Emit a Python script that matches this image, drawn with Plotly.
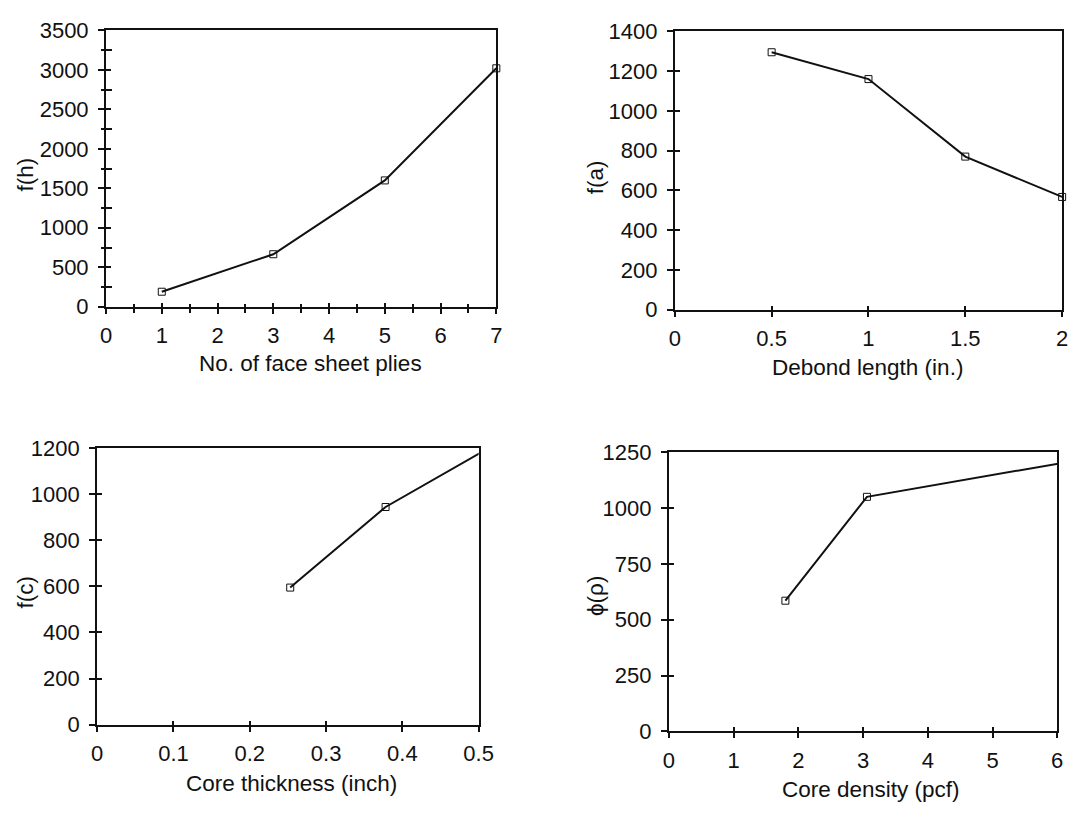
import plotly.graph_objects as go

W, H = 1084, 820

# ---- data ----
plies = [1, 3, 5, 7]
f_h = [190, 665, 1600, 3020]

debond = [0.5, 1.0, 1.5, 2.0]
f_a = [1295, 1160, 770, 567]

core_thk = [0.253, 0.378, 0.505]
f_c = [595, 945, 1185]

core_den = [1.8, 3.06, 6.04]
phi_rho = [585, 1050, 1200]

FONT = "Liberation Sans, Arial, sans-serif"
FS = 22
FT = 22.5
INK = "#111111"


def px(x):
    return min(1.0, max(0.0, x / W))


def py(y):
    return min(1.0, max(0.0, 1 - y / H))


# panel geometry in pixels: (left, right, top, bottom)
panels = [
    dict(x=plies, y=f_h, box=(102, 500, 19, 304), xr=[0, 7], yr=[0, 3500],
         xd=1, yd=500, xminor=0.5, yminor=250,
         xt="No. of face sheet plies", yt="f(h)", xt_pos=(311, 363), yt_pos=(20, 168)),
    dict(x=debond, y=f_a, box=(682, 1077, 20, 307), xr=[0, 2], yr=[0, 1400],
         xd=0.5, yd=200, xminor=None, yminor=None,
         xt="Debond length (in.)", yt="f(a)", xt_pos=(879, 367), yt_pos=(601, 170)),
    dict(x=core_thk, y=f_c, box=(93, 482, 450, 735), xr=[0, 0.5], yr=[0, 1200],
         xd=0.1, yd=200, xminor=None, yminor=None,
         xt="Core thickness (inch)", yt="f(c)", xt_pos=(291, 796), yt_pos=(20, 598)),
    dict(x=core_den, y=phi_rho, box=(676, 1072, 454, 742), xr=[0, 6], yr=[0, 1250],
         xd=1, yd=250, xminor=None, yminor=None,
         xt="Core density (pcf)", yt="ϕ(ρ)", xt_pos=(882, 802), yt_pos=(601, 602)),
]

fig = go.Figure()
annotations = []
layout = {}

for i, p in enumerate(panels, start=1):
    xa = "x" if i == 1 else f"x{i}"
    ya = "y" if i == 1 else f"y{i}"
    xk = "xaxis" if i == 1 else f"xaxis{i}"
    yk = "yaxis" if i == 1 else f"yaxis{i}"
    l, r, t, b = p["box"]
    fig.add_trace(go.Scatter(
        x=p["x"], y=p["y"], xaxis=xa, yaxis=ya, mode="lines+markers",
        line=dict(color=INK, width=2),
        marker=dict(symbol="square-open", size=7, color=INK,
                    line=dict(width=1)),
        cliponaxis=False, showlegend=False,
    ))
    # invisible trace so the overlay (inner-tick) axes are rendered
    fig.add_trace(go.Scatter(
        x=p["x"], y=p["y"], xaxis=f"x{i + 4}", yaxis=f"y{i + 4}",
        mode="lines", line=dict(width=0), opacity=0,
        hoverinfo="skip", showlegend=False,
    ))
    common = dict(showgrid=False, zeroline=False, tick0=0,
                  tickwidth=1.5, tickcolor=INK)
    xaxis = dict(
        domain=[px(l), px(r)], range=p["xr"], anchor=ya, dtick=p["xd"],
        showline=True, linecolor=INK, linewidth=2, mirror=True,
        ticks="outside", ticklen=5,
        tickfont=dict(family=FONT, size=FS, color=INK),
        ticklabelstandoff=3, **common,
    )
    yaxis = dict(
        domain=[py(b), py(t)], range=p["yr"], anchor=xa, dtick=p["yd"],
        showline=True, linecolor=INK, linewidth=2, mirror=True,
        ticks="outside", ticklen=6,
        tickfont=dict(family=FONT, size=FS, color=INK),
        ticklabelstandoff=5, **common,
    )
    # inner half of the crossing ticks
    xin = dict(overlaying=xa, anchor=ya, side="bottom", range=p["xr"],
               dtick=p["xd"], ticks="inside", ticklen=4, showline=False,
               showticklabels=False, **common)
    yin = dict(overlaying=ya, anchor=xa, side="left", range=p["yr"],
               dtick=p["yd"], ticks="inside", ticklen=5, showline=False,
               showticklabels=False, **common)
    if p["xminor"]:
        xaxis["minor"] = dict(dtick=p["xminor"], ticks="outside", ticklen=4,
                              tickwidth=1.5, tickcolor=INK)
        xin["minor"] = dict(dtick=p["xminor"], ticks="inside", ticklen=3,
                            tickwidth=1.5, tickcolor=INK)
    if p["yminor"]:
        yaxis["minor"] = dict(dtick=p["yminor"], ticks="outside", ticklen=3,
                              tickwidth=1.5, tickcolor=INK)
        yin["minor"] = dict(dtick=p["yminor"], ticks="inside", ticklen=6,
                            tickwidth=1.5, tickcolor=INK)
    layout[xk] = xaxis
    layout[yk] = yaxis
    layout[f"xaxis{i + 4}"] = xin
    layout[f"yaxis{i + 4}"] = yin

    annotations.append(dict(
        text=p["xt"], x=px(p["xt_pos"][0]), y=py(p["xt_pos"][1]),
        xref="paper", yref="paper", showarrow=False,
        xanchor="center", yanchor="middle",
        font=dict(family=FONT, size=FT, color=INK),
    ))
    annotations.append(dict(
        text=p["yt"], x=px(p["yt_pos"][0]), y=py(p["yt_pos"][1]),
        xref="paper", yref="paper", showarrow=False, textangle=-90,
        xanchor="center", yanchor="middle",
        font=dict(family=FONT, size=FT, color=INK),
    ))

fig.update_layout(
    width=W, height=H,
    margin=dict(l=0, r=0, t=0, b=0),
    paper_bgcolor="white", plot_bgcolor="white",
    annotations=annotations,
    **layout,
)

fig.write_html("out.html")
